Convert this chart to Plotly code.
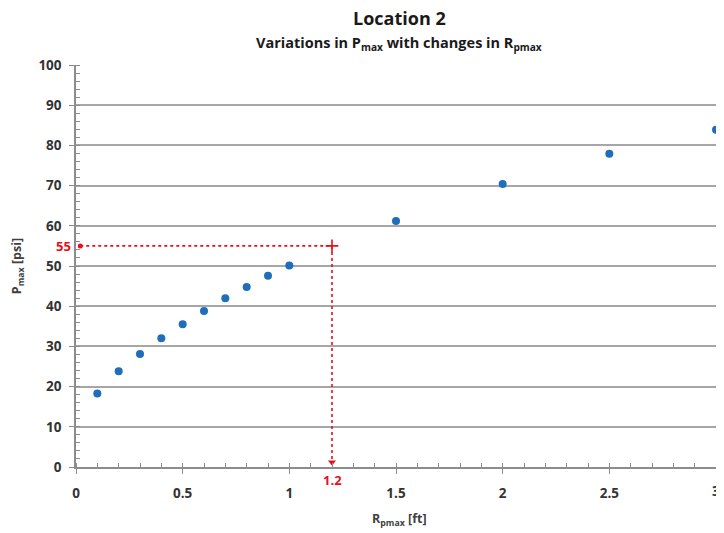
import plotly.graph_objects as go

r_pmax = [0.1, 0.2, 0.3, 0.4, 0.5, 0.6, 0.7, 0.8, 0.9, 1.0, 1.5, 2.0, 2.5, 3.0]
p_max = [18.3, 23.8, 28.1, 32.0, 35.5, 38.8, 42.0, 44.8, 47.6, 50.1, 61.2, 70.4, 77.9, 83.9]

read_x = 1.2
read_y = 55
read_start_x = 0.02

x_ticks = [0, 0.5, 1, 1.5, 2, 2.5, 3]
x_tick_labels = ["0", "0.5", "1", "1.5", "2", "2.5", "3"]
y_ticks = [0, 10, 20, 30, 40, 50, 60, 70, 80, 90, 100]

RED = "#E8101A"
BLUE = "#1F6EBA"
FONT = "Open Sans"

fig = go.Figure()

fig.add_trace(go.Scatter(
    x=r_pmax, y=p_max, mode="markers",
    marker=dict(color=BLUE, size=8), showlegend=False, cliponaxis=False))

fig.add_trace(go.Scatter(
    x=[read_start_x, read_x], y=[read_y, read_y], mode="lines",
    line=dict(color=RED, width=1.6, dash="dot"), showlegend=False))
fig.add_trace(go.Scatter(
    x=[read_x, read_x], y=[read_y, 0.8], mode="lines",
    line=dict(color=RED, width=1.6, dash="dot"), showlegend=False))
fig.add_trace(go.Scatter(
    x=[read_start_x], y=[read_y], mode="markers",
    marker=dict(color=RED, size=5), showlegend=False))
fig.add_trace(go.Scatter(
    x=[read_x], y=[read_y], mode="markers",
    marker=dict(color=RED, size=9, symbol="cross-thin", line=dict(color=RED, width=1.6)),
    showlegend=False))
fig.add_trace(go.Scatter(
    x=[read_x], y=[1.2], mode="markers",
    marker=dict(color=RED, size=7, symbol="triangle-down"),
    showlegend=False, cliponaxis=False))

fig.add_annotation(x=0, y=read_y, xref="x", yref="y", text="<b>55</b>",
                   showarrow=False, xanchor="right", xshift=-3,
                   font=dict(color=RED, size=13, family=FONT))
fig.add_annotation(x=read_x, y=0, xref="x", yref="y", text="<b>1.2</b>",
                   showarrow=False, yanchor="top", yshift=-2,
                   font=dict(color=RED, size=13, family=FONT))
# last x tick label, partly beyond the figure edge as in the reference
fig.add_annotation(x=x_ticks[-1], y=0, xref="x", yref="y", text="<b>" + x_tick_labels[-1] + "</b>",
                   showarrow=False, yanchor="middle", yshift=-24,
                   font=dict(color="#333333", size=13.5, family=FONT))

fig.add_annotation(x=0.505, y=1.1168, xref="paper", yref="paper", yanchor="middle",
                   text="<b>Location 2</b>", showarrow=False,
                   font=dict(size=18, color="#1a1a1a", family=FONT))
fig.add_annotation(x=0.505, y=1.0547, xref="paper", yref="paper", yanchor="middle",
                   text="<b>Variations in P<sub>max</sub> with changes in R<sub>pmax</sub></b>",
                   showarrow=False,
                   font=dict(size=14.5, color="#1a1a1a", family=FONT))
fig.add_annotation(x=0.505, y=-0.1304, xref="paper", yref="paper", yanchor="middle",
                   text="<b>R<sub>pmax</sub> [ft]</b>", showarrow=False,
                   font=dict(size=12.5, color="#404040", family=FONT))

fig.update_layout(
    width=708, height=525,
    margin=dict(l=68, r=0, t=57, b=65.5, autoexpand=False),
    paper_bgcolor="white", plot_bgcolor="white",
    font=dict(family=FONT, color="#404040", size=13),
    xaxis=dict(
        range=[0, 3], tickvals=x_ticks, ticktext=[f"<b>{t}</b>" for t in x_tick_labels],
        showgrid=False, showline=True, linecolor="#8c8c8c", linewidth=1.5,
        ticks="outside", ticklen=5, tickcolor="#8c8c8c", tickwidth=1.2,
        ticklabelstandoff=8,
        minor=dict(dtick=0.1, ticks="inside", ticklen=4, tickcolor="#8c8c8c", showgrid=False),
        tickfont=dict(size=13.5, color="#333333"),
        zeroline=False, mirror=False,
    ),
    yaxis=dict(
        range=[0, 100], tickvals=y_ticks, ticktext=[f"<b>{t}</b>" for t in y_ticks],
        showgrid=True, gridcolor="#a6a6a6", gridwidth=1.5,
        showline=True, linecolor="#8c8c8c", linewidth=1.5, mirror=True,
        ticks="outside", ticklen=5, tickcolor="#8c8c8c", tickwidth=1.2,
        ticklabelstandoff=5,
        minor=dict(dtick=2, ticks="inside", ticklen=4, tickcolor="#8c8c8c", showgrid=False),
        tickfont=dict(size=13.5, color="#333333"),
        title=dict(text="<b>P<sub>max</sub> [psi]</b>", font=dict(size=12.5, color="#404040"), standoff=14),
        zeroline=False,
    ),
)

fig.write_html("out.html")
